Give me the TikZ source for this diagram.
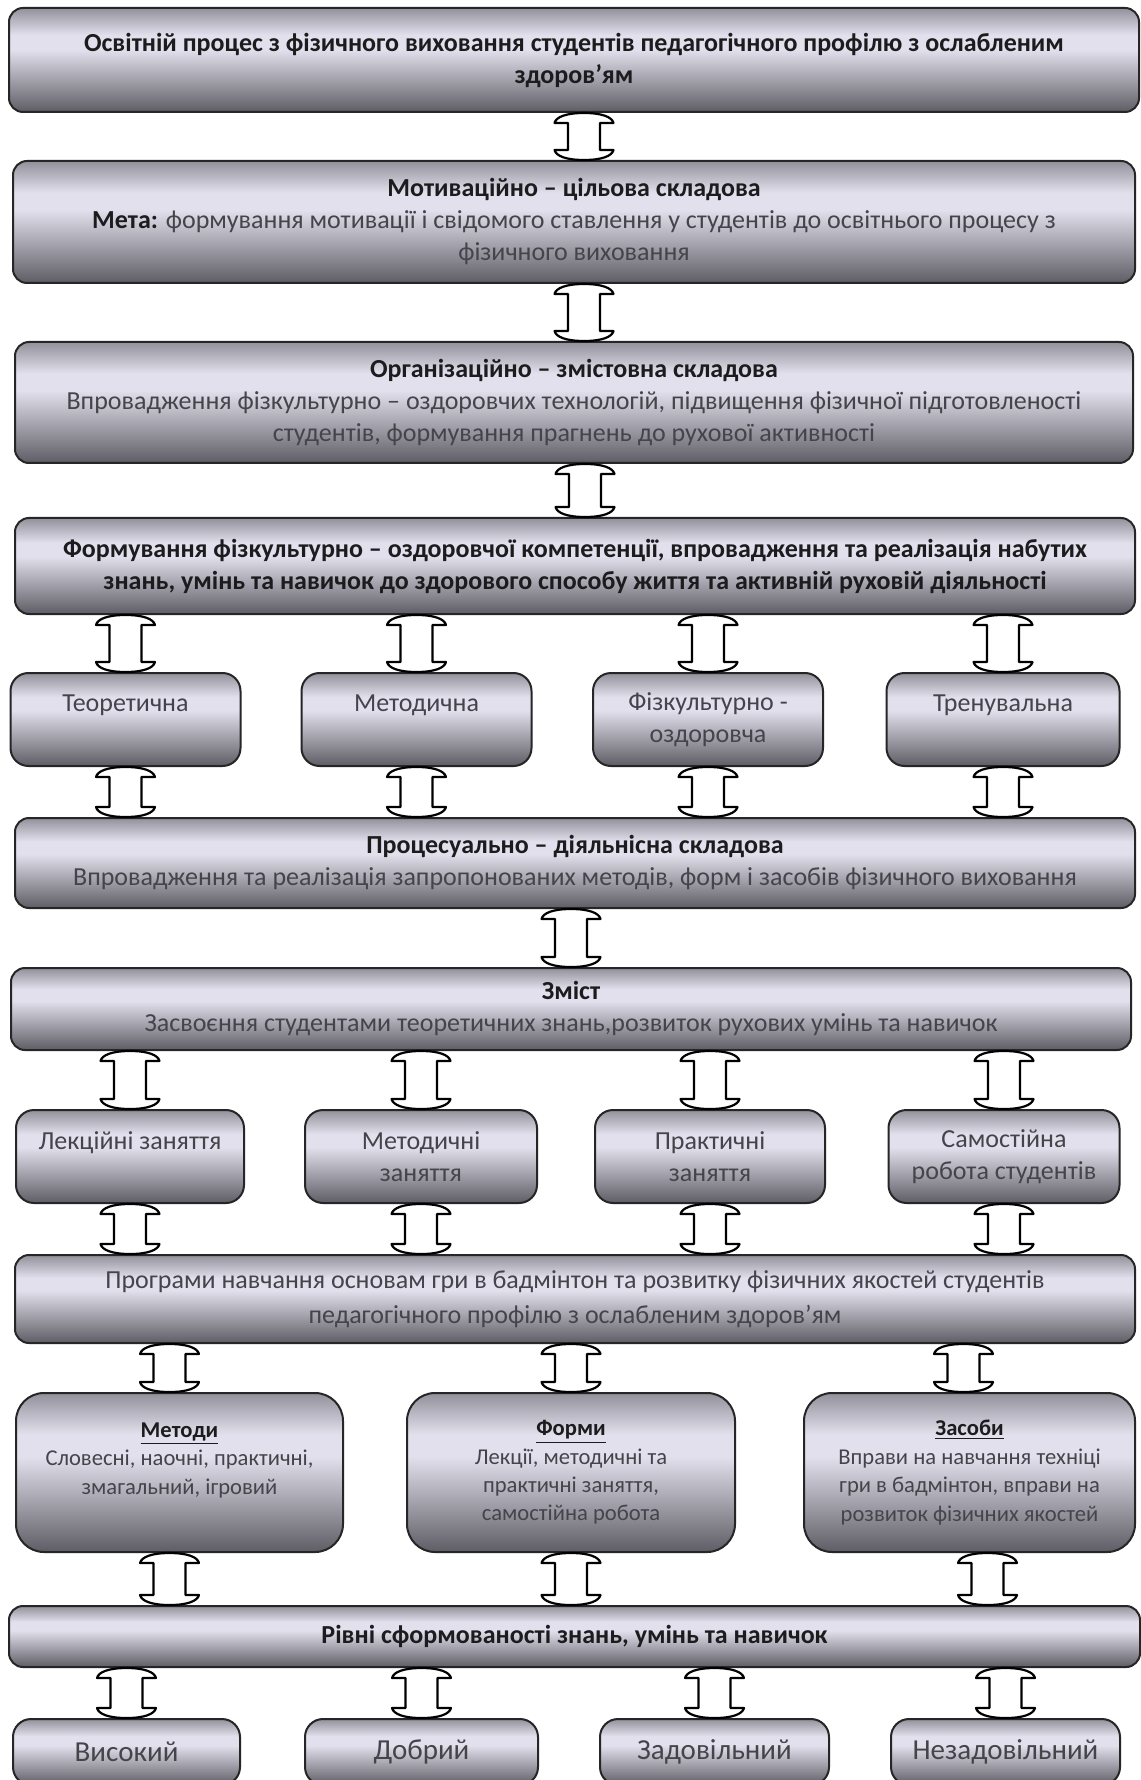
\documentclass[tikz,border=0pt]{standalone}
\usepackage{fontspec}
\setmainfont{Carlito}
\usetikzlibrary{calc,positioning}

\definecolor{plhigh}{RGB}{226,224,236}
\definecolor{pltop}{RGB}{146,144,154}
\definecolor{pllow}{RGB}{94,92,100}
\definecolor{ink}{RGB}{28,28,30}
\definecolor{greyink}{RGB}{68,68,74}
\pgfdeclareverticalshading{plate}{100bp}{color(0bp)=(pllow); color(25bp)=(pllow); color(55bp)=(plhigh); color(62bp)=(plhigh); color(75bp)=(pltop); color(100bp)=(pltop)}

\newcommand\hd[1]{\textbf{\color{ink}#1}}
% two-headed block arrow between an upper and a lower anchor
\newcommand\twoway[2]{%
  \draw[dualarrow] let \p1=(#1), \p2=(#2) in
    (\x2,\y1) .. controls (\x2-9pt,\y1) and (\x2-14pt,\y1-2pt) .. (\x2-14.75pt,\y1-5pt)
    -- (\x2-8pt,\y1-5pt) -- (\x2-8pt,\y2+5pt) -- (\x2-14.75pt,\y2+5pt)
    .. controls (\x2-14pt,\y2+2pt) and (\x2-9pt,\y2) .. (\x2,\y2)
    .. controls (\x2+9pt,\y2) and (\x2+14pt,\y2+2pt) .. (\x2+14.75pt,\y2+5pt)
    -- (\x2+8pt,\y2+5pt) -- (\x2+8pt,\y1-5pt) -- (\x2+14.75pt,\y1-5pt)
    .. controls (\x2+14pt,\y1-2pt) and (\x2+9pt,\y1) .. cycle;}

\tikzset{
  plate/.style={draw=black!85, line width=1pt, shade, shading=plate, rounded corners=7pt,
    align=center, inner sep=0pt, text=greyink, font=\fontsize{13}{16}\selectfont},
  band/.style={plate, minimum width=560pt},
  tile/.style={plate, rounded corners=9pt, minimum width=115pt, minimum height=46.5pt},
  panel/.style={plate, rounded corners=14pt, minimum width=164pt, minimum height=79.5pt,
    font=\fontsize{11.3}{14.2}\selectfont},
  grade/.style={plate, rounded corners=9pt, minimum width=115pt, minimum height=33pt,
    font=\fontsize{14.5}{16}\selectfont},
  dualarrow/.style={draw=black, line width=1.1pt, fill=white, line join=round},
}

\begin{document}
\begin{tikzpicture}[x=0.5pt,y=-0.5pt]
\path[use as bounding box, fill=white] (0,0) rectangle (1140,1780);

\node[band, minimum width=565pt, minimum height=52pt] (proc) at (574,60)
  {\hd{Освітній процес з фізичного виховання  студентів педагогічного  профілю з ослабленим}\\\hd{здоров’ям}};
\node[band, minimum width=561pt, minimum height=61pt] (motiv) at (574,222)
  {\hd{Мотиваційно – цільова  складова}\\\hd{Мета:} формування мотивації  і свідомого ставлення  у студентів  до освітнього процесу з\\фізичного виховання};
\node[band, minimum width=559pt, minimum height=60.5pt] (org) at (574,402.5)
  {\hd{Організаційно – змістовна складова}\\Впровадження фізкультурно – оздоровчих технологій, підвищення фізичної підготовленості\\студентів, формування прагнень до рухової активності};
\node[band, minimum width=560pt, minimum height=48pt] (comp) at (575,566)
  {\hd{Формування фізкультурно  – оздоровчої компетенції, впровадження та реалізація набутих}\\\hd{знань, умінь та навичок  до здорового способу життя та активній руховій діяльності}};

\node[tile] (theor) at (125.5,719.5) {Теоретична\\\mbox{}};
\node[tile] (method) at (416.5,719.5) {Методична\\\mbox{}};
\node[tile] (health) at (708,719.5) {Фізкультурно -\\оздоровча};
\node[tile, minimum width=116.5pt] (train) at (1003,719.5) {Тренувальна\\\mbox{}};

\node[band, minimum width=560pt, minimum height=45pt] (activ) at (575,863)
  {\hd{Процесуально – діяльнісна  складова}\\Впровадження та реалізація  запропонованих методів,  форм і засобів фізичного виховання};
\node[band, minimum width=560pt, minimum height=41pt] (content) at (571,1009)
  {\hd{Зміст}\\Засвоєння студентами   теоретичних  знань,розвиток рухових умінь та навичок};

\node[tile, minimum width=114pt] (lect) at (130,1156.5) {Лекційні заняття\\\mbox{}};
\node[tile, minimum width=116pt] (mlect) at (421,1156.5) {Методичні\\заняття};
\node[tile] (pract) at (710,1156.5) {Практичні\\заняття};
\node[tile, minimum width=115.5pt] (self) at (1004,1156.5) {Самостійна\\робота студентів};

\node[band, minimum width=560pt, minimum height=44pt, font=\fontsize{13}{17.5}\selectfont] (prog) at (575,1299)
  {Програми навчання основам гри в бадмінтон та розвитку фізичних якостей студентів\\педагогічного профілю з ослабленим здоров’ям};

\node[panel, minimum width=163.5pt] (meth) at (179.5,1472.5)
  {\hd{\underline{Методи}}\\Словесні, наочні, практичні,\\змагальний,  ігровий\\\mbox{}};
\node[panel] (forms) at (571,1472.5)
  {\hd{\underline{Форми}}\\Лекції, методичні  та\\практичні заняття,\\самостійна  робота};
\node[panel, minimum width=165.5pt] (means) at (969.5,1472.5)
  {\hd{\underline{Засоби}}\\Вправи на навчання техніці\\гри в бадмінтон,  вправи на\\розвиток фізичних  якостей};

\node[band, minimum width=565.5pt, minimum height=30.5pt] (levels) at (574.5,1636.5)
  {\hd{Рівні сформованості знань, умінь та навичок}};

\node[grade, minimum width=113.5pt] (high) at (126.5,1752) {Високий};
\node[grade, minimum width=116.5pt] (good) at (421.5,1752) {Добрий};
\node[grade, minimum width=114.5pt] (fair) at (714.5,1752) {Задовільний};
\node[grade, minimum width=114.5pt] (poor) at (1005.5,1752) {Незадовільний};

% connectors
\twoway{proc.south}{[xshift=5pt]motiv.north}
\twoway{motiv.south}{[xshift=5pt]org.north}
\twoway{org.south}{[xshift=5pt]comp.north}
\foreach \b in {theor,method,health,train}{
  \twoway{comp.south}{\b.north}
  \twoway{\b.south}{activ.north -| \b}
}
\twoway{activ.south}{content.north}
\foreach \b in {lect,mlect,pract,self}{
  \twoway{content.south}{\b.north}
  \twoway{\b.south}{prog.north -| \b}
}
\twoway{prog.south}{[xshift=-5pt]meth.north}
\twoway{prog.south}{forms.north}
\twoway{prog.south}{[xshift=-3pt]means.north}
\twoway{meth.south}{[xshift=-5pt]levels.north -| meth}
\twoway{forms.south}{levels.north -| forms}
\twoway{means.south}{[xshift=9pt]levels.north -| means}
\foreach \b in {high,good,fair,poor}
  \twoway{levels.south}{\b.north};
\end{tikzpicture}
\end{document}
